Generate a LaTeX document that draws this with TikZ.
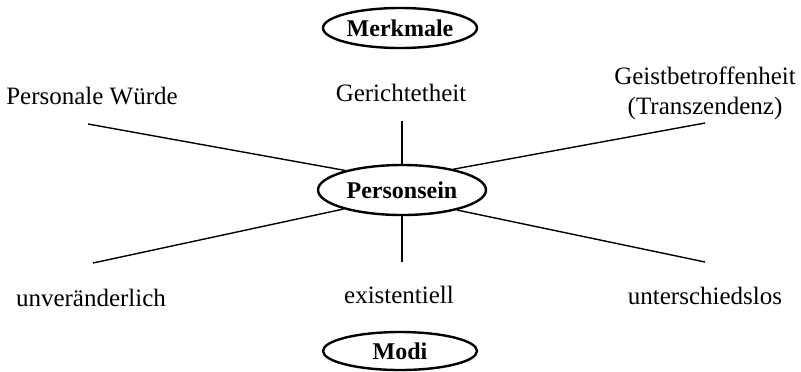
\documentclass[tikz,border=0pt]{standalone}
\usepackage{fontspec}
\setmainfont{Liberation Serif}
\usetikzlibrary{shapes.geometric}
\begin{document}
\begin{tikzpicture}[x=0.5pt,y=-0.5pt,
  oval/.style={draw, ellipse, line width=1.2pt, inner sep=0pt,
    font=\fontsize{12}{14}\selectfont\bfseries},
  lbl/.style={font=\fontsize{12.5}{15}\selectfont, align=center, inner sep=0pt},
  spoke/.style={line width=0.7pt}]
\useasboundingbox (0,0) rectangle (801,371);

% the three ovals
\node[oval, minimum width=77pt, minimum height=20pt] (merk) at (400,28) {Merkmale};
\node[oval, minimum width=84pt, minimum height=25pt] (pers) at (402,190) {Personsein};
\node[oval, minimum width=77pt, minimum height=19pt] (modi) at (400,351) {Modi};

% labels
\node[lbl] (wuerde) at (92,96) {Personale Würde};
\node[lbl] (richt) at (401,93) {Gerichtetheit};
\node[lbl] (geist) at (705,93) {Geistbetroffenheit\\(Transzendenz)};
\node[lbl] (unver) at (91,298) {unveränderlich};
\node[lbl] (exist) at (399,295) {existentiell};
\node[lbl] (unter) at (705,296) {unterschiedslos};

% free ends of the spokes
\coordinate (ul) at (88,124);
\coordinate (uc) at (402,121);
\coordinate (ur) at (705,123);
\coordinate (ll) at (93,263);
\coordinate (lc) at (402,262);
\coordinate (lr) at (705,262);

% spokes
\draw[spoke] (ul) -- (pers.161);
\draw[spoke] (uc) -- (pers.north);
\draw[spoke] (ur) -- (pers.22);
\draw[spoke] (ll) -- (pers.198);
\draw[spoke] (lc) -- (pers.south);
\draw[spoke] (lr) -- (pers.-20);
\end{tikzpicture}
\end{document}
